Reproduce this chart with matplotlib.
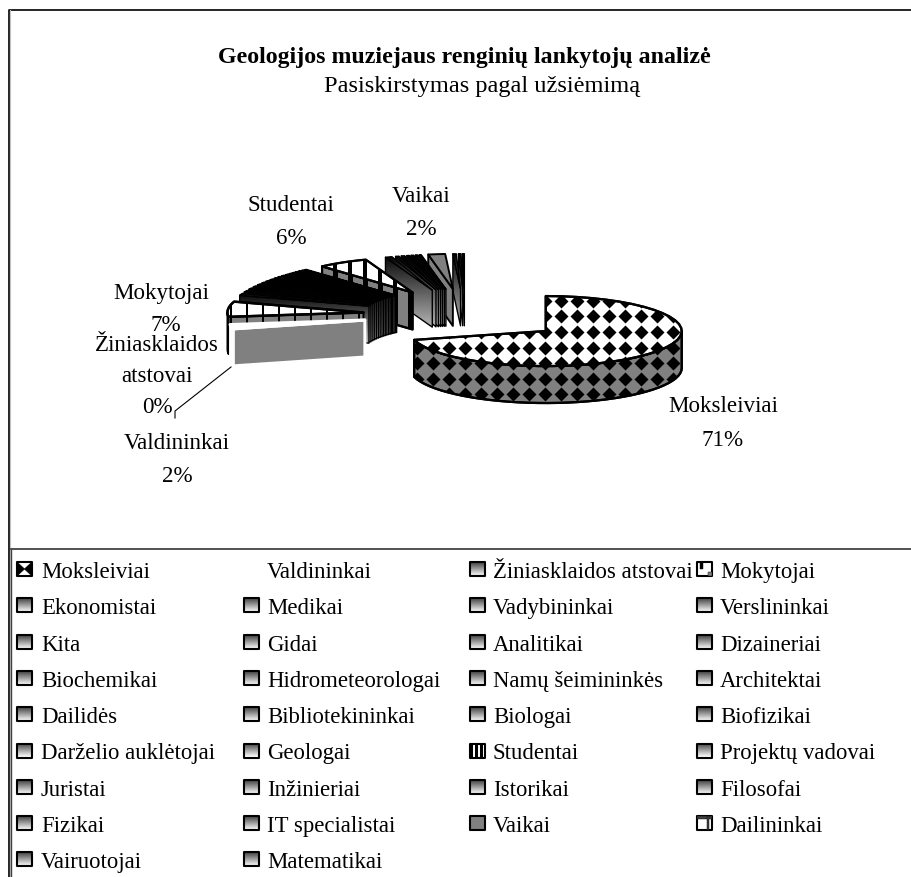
import matplotlib
matplotlib.use("Agg")
import matplotlib.pyplot as plt
import numpy as np
from matplotlib.patches import Polygon, Rectangle

plt.rcParams["font.family"] = ["Liberation Serif", "DejaVu Serif"]

TITLE = "Geologijos muziejaus renginių lankytojų analizė"
SUBTITLE = "Pasiskirstymas pagal užsiėmimą"

# order of the slices, clockwise from north, same as legend (row by row)
categories = ["Moksleiviai", "Valdininkai", "Žiniasklaidos atstovai", "Mokytojai",
              "Ekonomistai", "Medikai", "Vadybininkai", "Verslininkai",
              "Kita", "Gidai", "Analitikai", "Dizaineriai",
              "Biochemikai", "Hidrometeorologai", "Namų šeimininkės", "Architektai",
              "Dailidės", "Bibliotekininkai", "Biologai", "Biofizikai",
              "Darželio auklėtojai", "Geologai", "Studentai", "Projektų vadovai",
              "Juristai", "Inžinieriai", "Istorikai", "Filosofai",
              "Fizikai", "IT specialistai", "Vaikai", "Dailininkai",
              "Vairuotojai", "Matematikai"]
shares = [71.0, 2.0, 0.1, 7.0,
          0.9, 0.8, 0.7, 0.6,
          0.6, 0.5, 0.5, 0.5,
          0.4, 0.4, 0.4, 0.4,
          0.3, 0.3, 0.3, 0.3,
          0.3, 0.2, 6.0, 0.8,
          0.4, 0.4, 0.3, 0.3,
          0.3, 0.2, 2.0, 0.4,
          0.3, 0.2]

# labels drawn next to the pie: name -> text lines
label_lines = {"Studentai": ["Studentai", "6%"],
               "Vaikai": ["Vaikai", "2%"],
               "Mokytojai": ["Mokytojai", "7%"],
               "Žiniasklaidos": ["Žiniasklaidos", "atstovai", "0%"],
               "Valdininkai": ["Valdininkai", "2%"],
               "Moksleiviai": ["Moksleiviai", "71%"]}
label_pos = {"Studentai": (291, [211, 244]),
             "Vaikai": (421, [202, 235]),
             "Mokytojai": (161, [299]),
             "Žiniasklaidos": (157, [351, 382, 413]),
             "Valdininkai": (177, [449, 482]),
             "Moksleiviai": (723, [412, 446])}

CX, CY = 465, 316
RX, RY = 136, 35
DEPTH = 37
EXPLODE = 0.75

fig = plt.figure(figsize=(9.11, 8.78), dpi=100)
ax = fig.add_axes([0, 0, 1, 1])
ax.set_xlim(0, 911)
ax.set_ylim(878, 0)
ax.axis("off")

grad = np.linspace(0, 1, 64).reshape(-1, 1)
z = [2]


def next_z():
    z[0] += 1
    return z[0]


def gradient_poly(pts, low, high, edge="black", lw=1.0):
    pts = np.array(pts)
    zo = next_z()
    x0, y0 = pts.min(axis=0)
    x1, y1 = pts.max(axis=0)
    im = ax.imshow(low + (high - low) * grad, extent=[x0, x1, y1, y0], cmap="gray",
                   vmin=0, vmax=1, aspect="auto", zorder=zo)
    im.set_clip_path(Polygon(pts, transform=ax.transData))
    ax.add_patch(Polygon(pts, closed=True, fill=False, ec=edge, lw=lw, zorder=zo, joinstyle="round"))


def flat_poly(pts, color, edge="black", lw=1.4):
    p = Polygon(pts, closed=True, fc=color, ec=edge, lw=lw, zorder=next_z(), joinstyle="round")
    ax.add_patch(p)
    return p


def stripes(pts, step, width, color="black", start=0):
    clip = Polygon(pts, transform=ax.transData)
    pts = np.array(pts)
    y0, y1 = pts[:, 1].min(), pts[:, 1].max()
    for x in np.arange(start, 911, step):
        if pts[:, 0].min() - width < x < pts[:, 0].max() + width:
            r = Rectangle((x, y0), width, y1 - y0, fc=color, ec="none", zorder=z[0])
            ax.add_patch(r)
            r.set_clip_path(clip)


def diamonds(pts, zo):
    clip = Polygon(pts, transform=ax.transData)
    xs = np.arange(-12, 20) * 16.0 + 560.5
    for y in np.arange(-2, 9) * 15.6 + 301.7:
        ln, = ax.plot(xs, np.full_like(xs, y), ls="none", marker="D", ms=7.6, mfc="black",
                      mec="none", zorder=zo)
        ln.set_clip_path(clip)


def arc(c, a0, a1, n=40):
    t = np.radians(np.linspace(a0, a1, n))
    return np.column_stack([c[0] + RX * np.sin(t), c[1] - RY * np.cos(t)])


def outline(pts):
    ax.add_patch(Polygon(pts, closed=True, fill=False, ec="black", lw=1.6, zorder=z[0], joinstyle="round"))


vals = np.array(shares)
edges = np.concatenate([[0], np.cumsum(vals)]) / vals.sum() * 360

# back to front: last slice sits near north, first ones in front
order = list(range(1, len(categories)))[::-1] + [0]
for i in order:
    name = categories[i]
    a0, a1 = edges[i], edges[i + 1]
    mid = np.radians((a0 + a1) / 2)
    c = np.array([CX + EXPLODE * RX * np.sin(mid), CY - EXPLODE * RY * np.cos(mid)])
    top = np.vstack([[c], arc(c, a0, a1)])
    down = np.array([0, DEPTH])
    p0 = arc(c, a0, a0, 1)[0]
    face = [c, p0, p0 + down, c + down]
    side = None
    s0, s1 = max(a0, 90), min(a1, 270)
    if s1 > s0:
        outer = arc(c, s0, s1)
        side = np.vstack([outer, (outer + down)[::-1]])

    if name == "Moksleiviai":
        flat_poly(side, "#808080", lw=1.6)
        diamonds(side, z[0])
        outline(side)
        flat_poly(top, "white", lw=1.6)
        diamonds(top, z[0])
        outline(top)
    elif name == "Valdininkai":
        flat_poly(side, "white", edge="white")
        flat_poly(face, "#808080", edge="white", lw=2.2)
        flat_poly(top, "white", edge="white", lw=2.2)
    elif name == "Mokytojai":
        flat_poly(side, "black")
        flat_poly(face, "#808080")
        stripes(face, 16, 1.6, start=6)
        flat_poly(top, "white", lw=1.8)
        stripes(top, 16, 2.2, start=6)
        outline(top)
    elif name == "Studentai":
        flat_poly(face, "#808080")
        stripes(face, 15, 5, start=3)
        outline(face)
        flat_poly(top, "white")
        stripes(top, 15, 4, start=3)
        outline(top)
    elif name == "Vaikai":
        flat_poly(face, "#808080")
        flat_poly(top, "#808080")
    elif name == "Žiniasklaidos atstovai":
        continue
    else:
        gradient_poly(face, 0.05, 0.7)
        gradient_poly(top, 0.0, 0.45)

# leader line to Valdininkai
ax.plot([231, 175, 175], [368, 412, 419], color="black", lw=0.8, zorder=next_z())

zt = next_z()
ax.text(464, 63, TITLE, ha="center", va="baseline", fontsize=17.2, fontweight="bold", zorder=zt)
ax.text(482, 92, SUBTITLE, ha="center", va="baseline", fontsize=17.6, zorder=zt)
for key, lines in label_lines.items():
    x, ys = label_pos[key]
    for k, line in enumerate(lines):
        y = ys[k] if k < len(ys) else ys[-1] + 32
        xx = x + 5 if (line == "7%") else x
        ax.text(xx, y, line, ha="center", va="baseline", fontsize=16.6, zorder=zt)

# chart and legend frame
ax.plot([911, 8.5, 8.5], [10.5, 10.5, 878], color="black", lw=1.2, zorder=zt)
ax.plot([9.8, 9.8], [11, 878], color="#c0c0c0", lw=0.8, zorder=zt)
ax.plot([10.5, 10.5], [550, 878], color="#404040", lw=1.0, zorder=zt)
ax.plot([10.5, 911], [550, 550], color="#505050", lw=1.4, zorder=zt)

# legend
key_x = [17, 244, 470, 697]
text_x = [41, 267, 493, 720]
for i, name in enumerate(categories):
    row, col = divmod(i, 4)
    base = 578 + 36.3 * row
    ax.text(text_x[col], base, name, ha="left", va="baseline", fontsize=16.4, zorder=zt)
    kx, ky = key_x[col], base - 15
    box = [(kx, ky), (kx + 15, ky), (kx + 15, ky + 14), (kx, ky + 14)]
    if name == "Valdininkai":
        continue
    if name == "Vaikai":
        flat_poly(box, "#808080", lw=1.5)
    elif name == "Moksleiviai":
        flat_poly(box, "white", lw=1.5)
        flat_poly([(kx, ky), (kx + 7.5, ky + 7), (kx, ky + 14)], "black", lw=0.5)
        flat_poly([(kx + 15, ky), (kx + 7.5, ky + 7), (kx + 15, ky + 14)], "black", lw=0.5)
    elif name == "Mokytojai":
        flat_poly(box, "white", lw=1.5)
        flat_poly([(kx + 3, ky), (kx + 6, ky), (kx + 6, ky + 7), (kx + 3, ky + 7)], "black", lw=0.3)
        flat_poly([(kx + 11, ky + 10), (kx + 15, ky + 10), (kx + 15, ky + 14), (kx + 11, ky + 14)], "#808080", lw=0.3)
    elif name == "Studentai":
        flat_poly(box, "white", lw=1.5)
        stripes(box, 5, 2.5, start=kx)
    elif name == "Dailininkai":
        flat_poly(box, "white", lw=1.5)
        flat_poly([(kx, ky), (kx + 15, ky), (kx + 15, ky + 3), (kx, ky + 3)], "#404040", lw=0.3)
        flat_poly([(kx + 10, ky), (kx + 12, ky), (kx + 12, ky + 14), (kx + 10, ky + 14)], "#404040", lw=0.3)
    else:
        gradient_poly(box, 0.25, 1.0, lw=1.5)

ax.set_xlim(0, 911)
ax.set_ylim(878, 0)
fig.savefig("out.png", dpi=100)
